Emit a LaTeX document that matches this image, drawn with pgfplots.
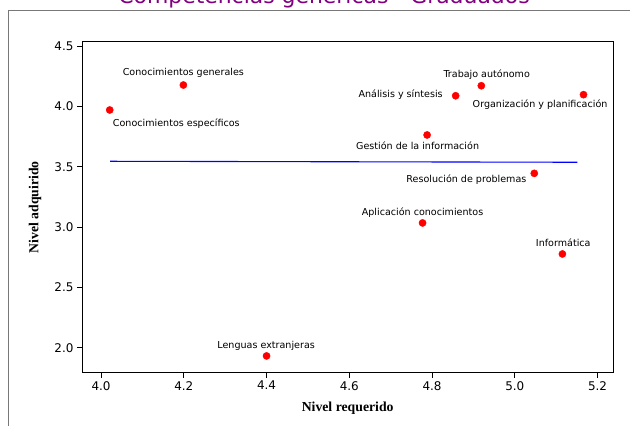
\documentclass[border=0pt]{standalone}
\usepackage{pgfplots}
\pgfplotsset{compat=1.18}
\usepackage{fontspec}
\setmainfont{DejaVu Sans}
\newfontfamily\serifbold{Liberation Serif}
\definecolor{titlepurple}{RGB}{128,0,128}
\definecolor{framegray}{RGB}{120,120,120}
\begin{document}
\begin{tikzpicture}[x=1bp,y=1bp]
\draw[framegray, line width=1bp] (640,414.3) -- (8.8,414.3) -- (8.8,-10);
\node[anchor=base, text=titlepurple, font=\fontsize{22}{26}\selectfont, inner sep=0pt] at (324,421) {Competencias genéricas - Graduados};
\begin{axis}[
  at={(82bp,52.3bp)}, anchor=south west,
  width=531.3bp, height=331bp, scale only axis,
  xmin=3.954, xmax=5.238, ymin=1.793, ymax=4.536,
  xtick={4.0,4.2,4.4,4.6,4.8,5.0,5.2},
  ytick={2.0,2.5,3.0,3.5,4.0,4.5},
  /pgf/number format/assume math mode=true,
  xticklabel={\pgfmathprintnumber[fixed,fixed zerofill,precision=1]{\tick}},
  yticklabel={\pgfmathprintnumber[fixed,fixed zerofill,precision=1]{\tick}},
  tick align=outside, xtick pos=bottom, ytick pos=left,
  major tick length=5bp,
  tick style={black, line width=0.8bp},
  axis line style={line width=0.8bp},
  tick label style={font=\fontsize{12}{14}\selectfont},
  xlabel={Nivel requerido}, ylabel={Nivel adquirido},
  label style={font=\serifbold\bfseries\fontsize{13.8}{16}\selectfont},
  xlabel style={at={(axis description cs:0.5,-0.1066)}, anchor=center},
  ylabel style={at={(axis description cs:-0.0885,0.5)}, anchor=center},
  clip=false,
]
\addplot[blue, line width=1.1bp] coordinates {(4.022,3.545) (5.151,3.537)};
\addplot[only marks, mark=*, mark size=3.6bp, red, mark options={draw=red, fill=red}] coordinates {
  (4.021,3.970)
  (4.199,4.177)
  (4.857,4.088)
  (4.919,4.171)
  (5.166,4.097)
  (4.788,3.763)
  (5.047,3.445)
  (4.777,3.034)
  (5.115,2.777)
  (4.400,1.932)
};
\begin{scope}[every node/.style={font=\fontsize{9.6}{11}\selectfont, inner sep=0pt, anchor=center}]
\node at (axis cs:4.182,3.860) {Conocimientos específicos};
\node at (axis cs:4.199,4.274) {Conocimientos generales};
\node at (axis cs:4.724,4.100) {Análisis y síntesis};
\node at (axis cs:4.932,4.266) {Trabajo autónomo};
\node at (axis cs:5.061,4.011) {Organización y planificación};
\node at (axis cs:4.765,3.672) {Gestión de la información};
\node at (axis cs:4.883,3.396) {Resolución de problemas};
\node at (axis cs:4.777,3.122) {Aplicación conocimientos};
\node at (axis cs:5.117,2.870) {Informática};
\node at (axis cs:4.399,2.015) {Lenguas extranjeras};
\end{scope}
\end{axis}
\pgfresetboundingbox
\path[use as bounding box] (0,0) rectangle (630,425);
\end{tikzpicture}
\end{document}
